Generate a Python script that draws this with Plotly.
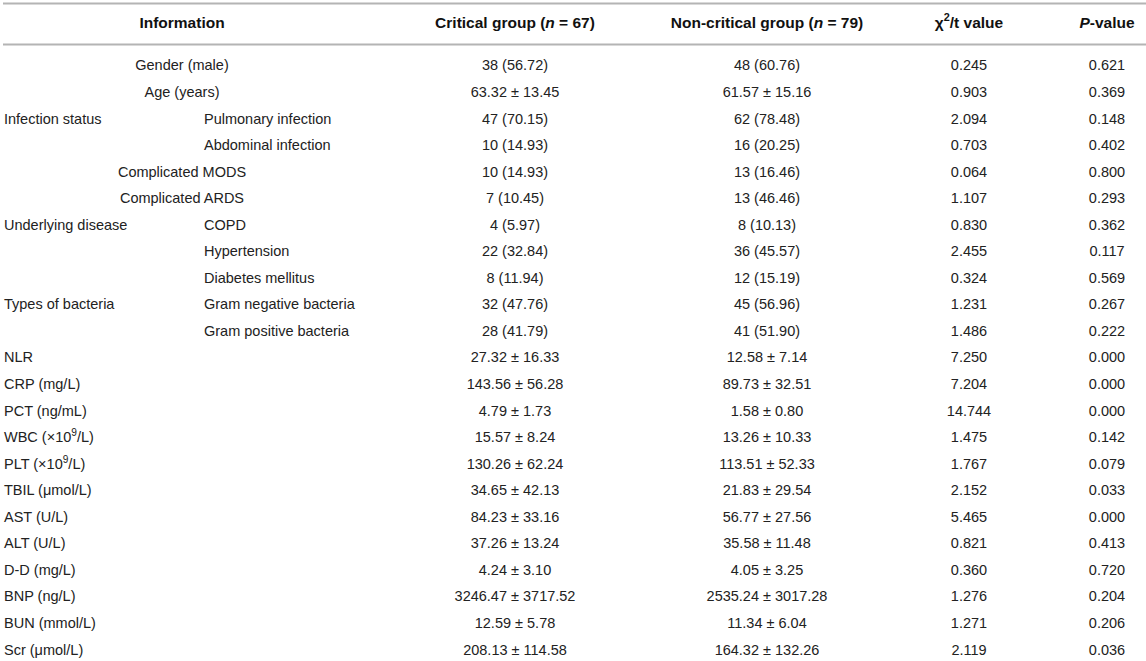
import plotly.graph_objects as go

# ---------------- data ----------------
headers = ["Information", "Critical group (<i>n</i> = 67)", "Non-critical group (<i>n</i> = 79)",
           "χ<sup>2</sup>/t value", "<i>P</i>-value"]

items = ["Gender (male)", "Age (years)", "Pulmonary infection", "Abdominal infection",
         "Complicated MODS", "Complicated ARDS", "COPD", "Hypertension", "Diabetes mellitus",
         "Gram negative bacteria", "Gram positive bacteria", "NLR", "CRP (mg/L)", "PCT (ng/mL)",
         "WBC (×10<sup>9</sup>/L)", "PLT (×10<sup>9</sup>/L)", "TBIL (μmol/L)", "AST (U/L)",
         "ALT (U/L)", "D-D (mg/L)", "BNP (ng/L)", "BUN (mmol/L)", "Scr (μmol/L)"]

groups = ["", "", "Infection status", "", "", "", "Underlying disease", "", "",
          "Types of bacteria", "", "", "", "", "", "", "", "", "", "", "", "", ""]

# c = centered across info columns, s = sub-item, l = left
kinds = ["c", "c", "s", "s", "c", "c", "s", "s", "s", "s", "s",
         "l", "l", "l", "l", "l", "l", "l", "l", "l", "l", "l", "l"]

critical = ["38 (56.72)", "63.32 ± 13.45", "47 (70.15)", "10 (14.93)", "10 (14.93)", "7 (10.45)",
            "4 (5.97)", "22 (32.84)", "8 (11.94)", "32 (47.76)", "28 (41.79)", "27.32 ± 16.33",
            "143.56 ± 56.28", "4.79 ± 1.73", "15.57 ± 8.24", "130.26 ± 62.24", "34.65 ± 42.13",
            "84.23 ± 33.16", "37.26 ± 13.24", "4.24 ± 3.10", "3246.47 ± 3717.52", "12.59 ± 5.78",
            "208.13 ± 114.58"]

noncritical = ["48 (60.76)", "61.57 ± 15.16", "62 (78.48)", "16 (20.25)", "13 (16.46)", "13 (46.46)",
               "8 (10.13)", "36 (45.57)", "12 (15.19)", "45 (56.96)", "41 (51.90)", "12.58 ± 7.14",
               "89.73 ± 32.51", "1.58 ± 0.80", "13.26 ± 10.33", "113.51 ± 52.33", "21.83 ± 29.54",
               "56.77 ± 27.56", "35.58 ± 11.48", "4.05 ± 3.25", "2535.24 ± 3017.28", "11.34 ± 6.04",
               "164.32 ± 132.26"]

chi_t = ["0.245", "0.903", "2.094", "0.703", "0.064", "1.107", "0.830", "2.455", "0.324", "1.231",
         "1.486", "7.250", "7.204", "14.744", "1.475", "1.767", "2.152", "5.465", "0.821", "0.360",
         "1.276", "1.271", "2.119"]

p_values = ["0.621", "0.369", "0.148", "0.402", "0.800", "0.293", "0.362", "0.117", "0.569", "0.267",
            "0.222", "0.000", "0.000", "0.000", "0.142", "0.079", "0.033", "0.000", "0.413", "0.720",
            "0.204", "0.206", "0.036"]

# ---------------- layout helpers ----------------
W, H = 1146, 661
ROW0, STEP, HEAD_Y = 66.8, 26.55, 24
X_LEFT, X_SUB, X_INFO = 4, 204, 182
X_CRIT, X_NON, X_CHI, X_P = 515, 767, 969, 1107

FONT = "Liberation Sans, Arial, sans-serif"
BODY = dict(family=FONT, size=14.5, color="#222222")
HEAD = dict(family=FONT, size=15.5, color="#111111")

rows = list(range(len(items)))
ypos = [ROW0 + i * STEP for i in rows]

fig = go.Figure()

def text_trace(xs, ys, texts, pos, font):
    fig.add_trace(go.Scatter(x=xs, y=ys, text=texts, mode="text", textposition=pos,
                             textfont=font, hoverinfo="skip", showlegend=False, cliponaxis=False))

# info column
for kind, pos, x in (("c", "middle center", X_INFO), ("s", "middle right", X_SUB), ("l", "middle right", X_LEFT)):
    idx = [i for i in rows if kinds[i] == kind]
    text_trace([x] * len(idx), [ypos[i] for i in idx], [items[i] for i in idx], pos, BODY)

gidx = [i for i in rows if groups[i]]
text_trace([X_LEFT] * len(gidx), [ypos[i] for i in gidx], [groups[i] for i in gidx], "middle right", BODY)

# value columns
for x, col in ((X_CRIT, critical), (X_NON, noncritical), (X_CHI, chi_t), (X_P, p_values)):
    text_trace([x] * len(col), ypos, col, "middle center", BODY)

# header
text_trace([X_INFO, X_CRIT, X_NON, X_CHI, X_P], [HEAD_Y] * 5,
           ["<b>%s</b>" % h for h in headers], "middle center", HEAD)

line = dict(color="#b4b4b4", width=2)
fig.add_shape(type="line", x0=3, x1=W, y0=3.5, y1=3.5, xref="x", yref="y", line=line)
fig.add_shape(type="line", x0=3, x1=W, y0=44.5, y1=44.5, xref="x", yref="y", line=line)

fig.update_layout(
    width=W, height=H, margin=dict(l=0, r=0, t=0, b=0),
    paper_bgcolor="white", plot_bgcolor="white",
    xaxis=dict(range=[0, W], visible=False, fixedrange=True),
    yaxis=dict(range=[H, 0], visible=False, fixedrange=True),
)

fig.write_html("out.html", config={"displayModeBar": False},
               post_script="document.body.style.margin='0';document.body.style.overflow='hidden';")
